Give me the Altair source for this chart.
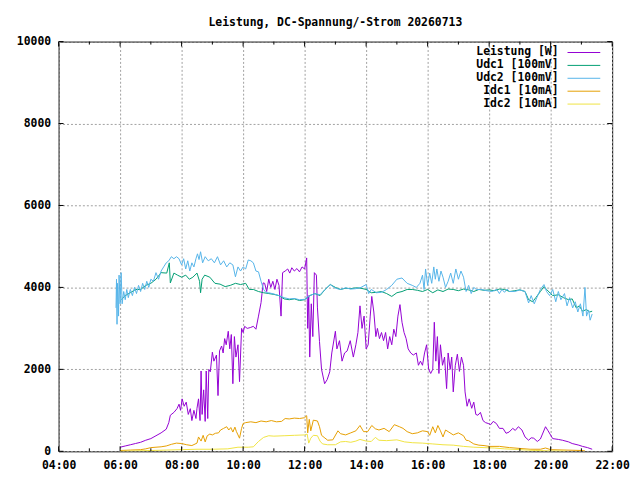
import altair as alt
import pandas as pd

TITLE = "Leistung, DC-Spannung/-Strom 20260713"
NAMES = ["Leistung [W]", "Udc1 [100mV]", "Udc2 [100mV]", "Idc1 [10mA]", "Idc2 [10mA]"]
COLORS = ["#9400d3", "#009e73", "#56b4e9", "#e69f00", "#f0e442"]

X_TICKS = [4, 6, 8, 10, 12, 14, 16, 18, 20, 22]
X_MINOR = [5, 7, 9, 11, 13, 15, 17, 19, 21]
Y_TICKS = [0, 2000, 4000, 6000, 8000, 10000]

# Leistung [W]
P_T = ["06:00", "06:10", "06:20", "06:30", "06:40", "06:50", "07:00", "07:10", "07:20", "07:30",
       "07:35", "07:38", "07:45", "07:51", "07:55", "07:58", "08:01", "08:05", "08:09", "08:13",
       "08:17", "08:20", "08:24", "08:28", "08:30", "08:33", "08:36", "08:38", "08:40", "08:43",
       "08:46", "08:48", "08:51", "08:53", "08:56", "09:00", "09:03", "09:08", "09:11", "09:14",
       "09:18", "09:21", "09:24", "09:27", "09:31", "09:34", "09:37", "09:40", "09:43", "09:46",
       "09:50", "09:53", "09:57", "10:00", "10:03", "10:08", "10:14", "10:20", "10:25", "10:30",
       "10:35", "10:39", "10:42", "10:46", "10:50", "10:54", "10:58", "11:02", "11:06", "11:10",
       "11:14", "11:17", "11:22", "11:27", "11:31", "11:35", "11:40", "11:45", "11:50", "11:55",
       "12:00", "12:04", "12:06", "12:08", "12:10", "12:13", "12:16", "12:19", "12:23", "12:25",
       "12:29", "12:33", "12:39", "12:44", "12:49", "12:53", "13:00", "13:03", "13:08", "13:13",
       "13:18", "13:23", "13:29", "13:35", "13:40", "13:44", "13:48", "13:52", "13:56", "14:00",
       "14:04", "14:08", "14:11", "14:15", "14:19", "14:22", "14:26", "14:30", "14:34", "14:38",
       "14:42", "14:46", "14:50", "14:54", "14:58", "15:02", "15:06", "15:10", "15:14", "15:18",
       "15:22", "15:27", "15:32", "15:38", "15:42", "15:46", "15:50", "15:54", "15:58", "16:02",
       "16:06", "16:10", "16:13", "16:16", "16:19", "16:22", "16:25", "16:29", "16:33", "16:37",
       "16:40", "16:44", "16:47", "16:50", "16:54", "16:58", "17:02", "17:06", "17:10", "17:13",
       "17:17", "17:21", "17:26", "17:30", "17:34", "17:38", "17:43", "17:48", "17:53", "17:58",
       "18:03", "18:08", "18:14", "18:20", "18:27", "18:33", "18:39", "18:46", "18:51", "18:57",
       "19:04", "19:10", "19:17", "19:22", "19:27", "19:34", "19:40", "19:50", "19:55", "20:04",
       "20:15", "20:23", "20:35", "20:42", "20:55", "21:02", "21:12", "21:21"]
P_V = [100, 130, 160, 190, 220, 270, 310, 380, 450, 540,
       700, 880, 950, 1040, 1150, 1000, 1280, 1100, 1200, 900,
       1040, 750, 1000, 800, 1050, 1280, 750, 1960, 900, 1500,
       730, 1960, 800, 2000, 1940, 2420, 2200, 2350, 1360, 2450,
       2570, 2400, 2750, 2600, 2930, 2500, 2850, 1650, 2800, 2300,
       2600, 1700, 3000, 2900, 3050, 3000, 3020, 3050, 2980, 3300,
       3630, 4110, 4100, 3900, 4200, 4000, 4150, 3950, 4200, 4050,
       3300, 4360, 4400, 4450, 4350, 4480, 4400, 4460, 4380, 4500,
       4450, 4720, 3000, 3800, 2300, 3600, 2800, 4360, 4300, 3500,
       2680, 2000, 1650, 1750, 1940, 2400, 2930, 2500, 2700, 2200,
       2400, 2450, 2700, 2300, 2600, 2900, 3550, 3000, 3300, 2500,
       2600, 3300, 3780, 3400, 2800, 3000, 2750, 2900, 2700, 2900,
       2500, 2800, 2600, 2980, 2800, 3300, 3580, 3150, 2900, 2750,
       2500, 2400, 2350, 2400, 2100, 2200, 2100, 2400, 2600, 2000,
       1900, 2000, 3150, 2200, 2800, 1900, 2600, 2100, 2300, 1530,
       2400, 2000, 2300, 1450, 2100, 2370, 1950, 2300, 2100, 1450,
       1100, 1280, 1050, 1200, 900, 880, 950, 750, 700, 680,
       650, 730, 680, 560, 560, 440, 470, 560, 510, 600,
       520, 350, 270, 330, 320, 240, 300, 600, 500, 310,
       290, 270, 230, 190, 150, 120, 90, 50]

# Udc1 [100mV]
U1_T = ["06:02", "06:10", "06:20", "06:30", "06:40", "06:50", "07:00", "07:10", "07:20", "07:31",
        "07:36", "07:38", "07:45", "07:52", "08:00", "08:08", "08:15", "08:22", "08:30", "08:35",
        "08:37", "08:40", "08:45", "08:55", "09:05", "09:15", "09:25", "09:35", "09:45", "09:55",
        "10:05", "10:12", "10:20", "10:30", "10:40", "10:50", "11:00", "11:10", "11:20", "11:30",
        "11:40", "11:50", "12:00", "12:10", "12:20", "12:30", "12:40", "12:50", "13:00", "13:10",
        "13:20", "13:30", "13:40", "13:50", "14:00", "14:10", "14:20", "14:30", "14:40", "14:50",
        "15:00", "15:10", "15:20", "15:30", "15:40", "15:50", "16:00", "16:10", "16:20", "16:30",
        "16:40", "16:50", "17:00", "17:10", "17:20", "17:30", "17:40", "17:50", "18:00", "18:10",
        "18:20", "18:30", "18:40", "18:50", "19:00", "19:10", "19:17", "19:25", "19:31", "19:40",
        "19:47", "19:52", "20:04", "20:15", "20:25", "20:35", "20:42", "20:50", "20:56", "21:02",
        "21:10", "21:16", "21:21"]
U1_V = [3700, 3800, 3870, 3950, 3950, 4050, 4100, 4200, 4360, 4350,
        4600, 4110, 4350, 4300, 4250, 4300, 4200, 4250, 4350, 4150,
        3870, 4200, 4300, 4250, 4100, 4080, 4020, 4050, 4100, 4070,
        4100, 3950, 3950, 3900, 3870, 3850, 3830, 3800, 3720, 3700,
        3720, 3680, 3700, 3800, 3850, 3800, 3950, 4070, 4000, 3950,
        3980, 3970, 3990, 3980, 3950, 3870, 3880, 3900, 3850, 3780,
        3870, 3900, 3950, 3950, 3930, 3900, 3950, 3870, 3940, 3900,
        3960, 3950, 3920, 3960, 3940, 3900, 3950, 3930, 3940, 3920,
        3960, 3950, 3900, 3920, 3940, 3900, 3700, 3650, 3750, 3900,
        4020, 3950, 3800, 3820, 3750, 3700, 3720, 3500, 3550, 3420,
        3460, 3400, 3420]

# Udc2 [100mV]
U2_T = ["05:52", "05:53", "05:54", "05:55", "05:57", "05:58", "06:00", "06:02", "06:04", "06:07",
        "06:10", "06:13", "06:16", "06:20", "06:24", "06:28", "06:32", "06:36", "06:40", "06:44",
        "06:48", "06:52", "06:56", "07:00", "07:05", "07:10", "07:15", "07:20", "07:25", "07:30",
        "07:35", "07:40", "07:45", "07:50", "07:55", "08:00", "08:04", "08:08", "08:12", "08:16",
        "08:20", "08:24", "08:28", "08:31", "08:34", "08:37", "08:41", "08:46", "08:52", "08:58",
        "09:04", "09:10", "09:16", "09:22", "09:28", "09:34", "09:40", "09:45", "09:50", "09:55",
        "10:00", "10:05", "10:10", "10:15", "10:20", "10:25", "10:30", "10:35", "10:40", "10:45",
        "10:50", "11:00", "11:10", "11:20", "11:30", "11:40", "11:50", "12:00", "12:10", "12:20",
        "12:30", "12:40", "12:50", "13:00", "13:10", "13:20", "13:30", "13:40", "13:50", "14:00",
        "14:05", "14:10", "14:20", "14:30", "14:40", "14:50", "15:00", "15:10", "15:20", "15:30",
        "15:38", "15:45", "15:50", "15:53", "15:56", "16:00", "16:04", "16:08", "16:12", "16:15",
        "16:18", "16:22", "16:26", "16:30", "16:35", "16:40", "16:45", "16:50", "16:55", "17:00",
        "17:05", "17:10", "17:15", "17:20", "17:25", "17:30", "17:35", "17:45", "17:55", "18:05",
        "18:15", "18:20", "18:25", "18:30", "18:35", "18:40", "18:50", "19:00", "19:10", "19:17",
        "19:22", "19:28", "19:33", "19:40", "19:47", "19:52", "19:58", "20:04", "20:10", "20:15",
        "20:20", "20:27", "20:32", "20:37", "20:43", "20:48", "20:53", "20:58", "21:03", "21:07",
        "21:10", "21:14", "21:17", "21:21"]
U2_V = [3500, 4200, 3100, 4100, 3300, 4300, 3600, 4360, 3600, 3900,
        3700, 3950, 3750, 3950, 3800, 4000, 3850, 4050, 3900, 4100,
        3950, 4150, 4000, 4200, 4150, 4360, 4200, 4400, 4500, 4600,
        4650, 4750, 4700, 4750, 4700, 4550, 4700, 4450, 4650, 4400,
        4600, 4500, 4700, 4820, 4680, 4870, 4600, 4750, 4650, 4700,
        4600, 4750, 4550, 4650, 4500, 4600, 4550, 4260, 4500, 4400,
        4500, 4450, 4670, 4650, 4600, 4400, 4380, 4150, 3950, 3870,
        3870, 3840, 3800, 3750, 3720, 3730, 3700, 3710, 3800, 3850,
        3820, 3950, 4070, 3980, 3950, 3990, 3960, 3970, 4000, 4070,
        3850, 3950, 3870, 3880, 3950, 4050, 4200, 4230, 4100, 4050,
        4000, 4100, 4300, 3950, 4450, 4050, 4350, 4100, 4500, 4200,
        4450, 4150, 4400, 4250, 4000, 4150, 4350, 4100, 4450, 4200,
        4400, 4250, 3900, 4050, 3850, 4000, 3950, 3950, 3920, 3900,
        3950, 3850, 3950, 3880, 3960, 3900, 3900, 3940, 3900, 3620,
        3800, 3600, 3750, 3950, 4070, 3900, 3800, 3950, 3650, 3900,
        3700, 3850, 3550, 3750, 3500, 3650, 3400, 3600, 3300, 4000,
        3300, 3450, 3200, 3350]

# Idc1 [10mA]
I1_T = ["06:00", "06:20", "06:40", "06:50", "07:00", "07:10", "07:20", "07:30", "07:40", "07:50",
        "08:00", "08:10", "08:20", "08:30", "08:33", "08:38", "08:42", "08:46", "08:50", "08:55",
        "09:00", "09:06", "09:12", "09:16", "09:22", "09:28", "09:32", "09:36", "09:40", "09:44",
        "09:47", "09:50", "09:53", "09:57", "10:00", "10:05", "10:15", "10:25", "10:35", "10:45",
        "10:55", "11:05", "11:15", "11:22", "11:30", "11:40", "11:50", "12:00", "12:04", "12:06",
        "12:09", "12:12", "12:17", "12:25", "12:29", "12:33", "12:38", "12:45", "12:55", "13:05",
        "13:10", "13:20", "13:30", "13:40", "13:48", "13:55", "14:03", "14:11", "14:18", "14:25",
        "14:35", "14:45", "14:55", "15:05", "15:12", "15:20", "15:30", "15:40", "15:50", "16:00",
        "16:04", "16:10", "16:15", "16:20", "16:25", "16:30", "16:35", "16:40", "16:50", "17:00",
        "17:10", "17:15", "17:20", "17:30", "17:40", "17:50", "18:00", "18:20", "18:40", "19:00",
        "19:20", "19:40", "19:50", "20:00", "20:30", "21:00", "21:07"]
I1_V = [20, 30, 40, 60, 90, 100, 110, 130, 170, 200,
        190, 160, 140, 200, 350, 250, 390, 230, 380, 420,
        400, 440, 450, 520, 560, 600, 520, 580, 470, 590,
        480, 400, 320, 560, 680, 700, 720, 700, 740, 720,
        750, 720, 730, 800, 790, 810, 800, 820, 870, 450,
        780, 500, 760, 740, 600, 390, 340, 270, 280, 500,
        430, 400, 450, 500, 630, 480, 480, 630, 550, 520,
        560, 480, 650, 600, 560, 480, 430, 450, 500, 480,
        390, 600, 450, 630, 500, 350, 520, 480, 400, 450,
        380, 270, 260, 180, 150, 140, 120, 120, 90, 70,
        50, 50, 80, 40, 30, 20, 10]

# Idc2 [10mA]
I2_T = ["06:00", "06:30", "07:00", "07:30", "08:00", "08:30", "09:00", "09:30", "09:50", "10:10",
        "10:20", "10:30", "10:40", "10:50", "11:00", "11:20", "11:40", "12:00", "12:05", "12:08",
        "12:12", "12:17", "12:25", "12:30", "12:35", "12:45", "13:00", "13:10", "13:20", "13:30",
        "13:40", "13:48", "14:00", "14:10", "14:18", "14:25", "14:40", "15:00", "15:15", "15:30",
        "15:50", "16:10", "16:30", "16:50", "17:10", "17:30", "17:50", "18:10", "18:30", "19:00",
        "19:30", "20:00", "20:30"]
I2_V = [0, 10, 20, 30, 40, 50, 50, 60, 100, 100,
        110, 240, 340, 380, 370, 380, 390, 400, 420, 200,
        320, 390, 380, 250, 180, 160, 160, 230, 240, 220,
        250, 290, 250, 240, 340, 270, 260, 280, 230, 210,
        200, 180, 160, 150, 120, 100, 90, 80, 60, 40,
        20, 10, 5]

SERIES = [(P_T, P_V), (U1_T, U1_V), (U2_T, U2_V), (I1_T, I1_V), (I2_T, I2_V)]

FONT = "DejaVu Sans Mono"
FS = 11.5
W, H = 558, 413


def to_hours(s):
    h, m = s.split(":")
    return int(h) + int(m) / 60.0


def frame(times, vals):
    return pd.DataFrame({"h": [to_hours(t) for t in times], "v": vals})


xscale = alt.Scale(domain=[4, 22], nice=False, zero=False)
yscale = alt.Scale(domain=[0, 10000], nice=False)

x_axis = alt.Axis(values=X_TICKS, title=None, grid=True, gridColor="#a0a0a0",
                  gridDash=[2, 2], gridWidth=1, ticks=False, domain=False,
                  labelExpr="(datum.value < 10 ? '0' : '') + datum.value + ':00'",
                  labelFont=FONT, labelFontSize=FS, labelFontWeight="bold",
                  labelColor="black", labelPadding=8, labelFlush=False,
                  labelOverlap=False)
y_axis = alt.Axis(values=Y_TICKS, title=None, grid=True, gridColor="#a0a0a0",
                  gridDash=[2, 2], gridWidth=1, ticks=False, domain=False,
                  format="d", labelFont=FONT, labelFontSize=FS,
                  labelFontWeight="bold", labelColor="black", labelPadding=8,
                  labelFlush=False, labelOverlap=False)

X = lambda: alt.X("h:Q", scale=xscale, axis=x_axis)
Y = lambda: alt.Y("v:Q", scale=yscale, axis=y_axis)

layers = []
for (times, vals), color in zip(SERIES, COLORS):
    layers.append(
        alt.Chart(frame(times, vals)).mark_line(color=color, strokeWidth=1, clip=True)
        .encode(x=X(), y=Y())
    )

# inward tick marks on all four sides
xt = pd.DataFrame({"h": X_TICKS})
xm = pd.DataFrame({"h": X_MINOR})
yt = pd.DataFrame({"v": Y_TICKS})
for df, ln in ((xt, 5), (xm, 3)):
    layers.append(alt.Chart(df).mark_rule(color="black", strokeWidth=1)
                  .encode(x=X(), y=alt.value(H), y2=alt.value(H - ln)))
    layers.append(alt.Chart(df).mark_rule(color="black", strokeWidth=1)
                  .encode(x=X(), y=alt.value(0), y2=alt.value(ln)))
layers.append(alt.Chart(yt).mark_rule(color="black", strokeWidth=1)
              .encode(y=Y(), x=alt.value(0), x2=alt.value(5)))
layers.append(alt.Chart(yt).mark_rule(color="black", strokeWidth=1)
              .encode(y=Y(), x=alt.value(W), x2=alt.value(W - 5)))

# key (gnuplot style: text right-aligned, sample line to the right)
for i, (name, color) in enumerate(zip(NAMES, COLORS)):
    ypos = 11 + 13 * i
    layers.append(
        alt.Chart(pd.DataFrame({"label": [name]}))
        .mark_text(align="right", baseline="middle", font=FONT, fontSize=FS,
                   fontWeight="bold", color="black")
        .encode(x=alt.value(504), y=alt.value(ypos), text="label:N")
    )
    layers.append(
        alt.Chart(pd.DataFrame({"label": [name]}))
        .mark_rule(color=color, strokeWidth=1)
        .encode(x=alt.value(513), x2=alt.value(546), y=alt.value(ypos))
    )

# plot title, centred above the plot area
layers.append(
    alt.Chart(pd.DataFrame({"title": [TITLE]}))
    .mark_text(align="center", baseline="middle", font=FONT, fontSize=FS,
               fontWeight="bold", color="black")
    .encode(x=alt.value(W / 2), y=alt.value(-18.5), text="title:N")
)

chart = (
    alt.layer(*layers)
    .properties(
        width=W, height=H,
        padding={"left": 51, "top": 32, "right": 20, "bottom": 19},
        autosize=alt.AutoSizeParams(type="none"),
        background="white",
        usermeta={"embedOptions": {
            "defaultStyle": ".vega-embed{display:block} .vega-embed svg{display:block}"
        }},
    )
    .configure_view(stroke="black", strokeWidth=1)
)

chart.save("out.html", embed_options={"renderer": "svg", "actions": False})
